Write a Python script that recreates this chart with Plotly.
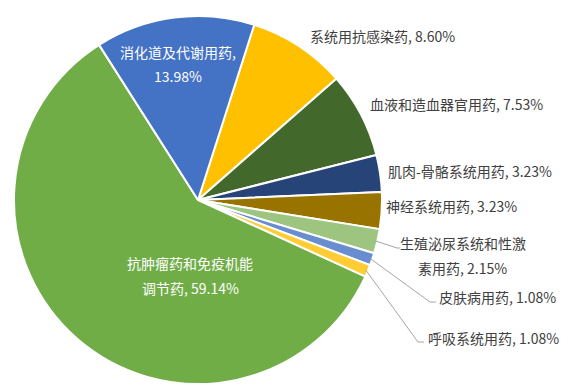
import math
import plotly.graph_objects as go

# Data (clockwise order starting at the yellow slice)
labels = ["系统用抗感染药", "血液和造血器官用药", "肌肉-骨骼系统用药", "神经系统用药",
          "生殖泌尿系统和性激素用药", "皮肤病用药", "呼吸系统用药",
          "抗肿瘤药和免疫机能调节药", "消化道及代谢用药"]
values = [8.60, 7.53, 3.23, 3.23, 2.15, 1.08, 1.08, 59.14, 13.98]
colors = ["#FFC000", "#43682B", "#264478", "#997300", "#9DC57F",
          "#698ED0", "#FFCD33", "#70AD47", "#4472C4"]
# display text lines for each label
display = [["系统用抗感染药, 8.60%"], ["血液和造血器官用药, 7.53%"], ["肌肉-骨骼系统用药, 3.23%"],
           ["神经系统用药, 3.23%"], ["生殖泌尿系统和性激", "素用药, 2.15%"], ["皮肤病用药, 1.08%"],
           ["呼吸系统用药, 1.08%"], ["抗肿瘤药和免疫机能", "调节药, 59.14%"],
           ["消化道及代谢用药,", "13.98%"]]

W, H = 582, 391
cx, cy, r = 198, 200, 184
rotation = 17.8

fig = go.Figure(go.Pie(
    labels=labels, values=values, sort=False, direction="clockwise",
    rotation=rotation, textinfo="none", hoverinfo="label+percent",
    marker=dict(colors=colors, line=dict(color="white", width=2)),
    domain=dict(x=[(cx - r) / W, (cx + r) / W], y=[(H - cy - r) / H, (H - cy + r) / H]),
    showlegend=False,
))

# label anchor positions (pixel coords of first line), alignment, colour
label_pos = [
    (308, 36, "left", "#404040"),
    (368, 104, "left", "#404040"),
    (386, 171, "left", "#404040"),
    (384, 206, "left", "#404040"),
    (463, 243, "center", "#404040"),
    (437, 297, "left", "#404040"),
    (426, 338, "left", "#404040"),
    (190, 263, "center", "white"),
    (178, 52, "center", "white"),
]
line_gap = 24.5

annotations = []
for lines, (px, py, al, col) in zip(display, label_pos):
    for k, txt in enumerate(lines):
        annotations.append(dict(
            x=px / W, y=1 - (py + k * line_gap) / H, xref="paper", yref="paper", text=txt,
            showarrow=False, xanchor=al, yanchor="middle", align="center",
            font=dict(size=14, color=col, family="Noto Sans CJK SC, Microsoft YaHei, sans-serif"),
        ))

# leader lines for the small slices, computed from the slice mid-angles
shapes = []
total = sum(values)
cum = 0
mids = []
for v in values:
    start = rotation + cum / total * 360
    mids.append(start + v / total * 360 / 2)
    cum += v
leader_targets = {4: (397, 248, 400), 5: (430, 302, 436), 6: (418, 342, 424)}
for i, (tx, ty, ex) in leader_targets.items():
    a = math.radians(mids[i])
    sx = cx + (r - 2) * math.sin(a)
    sy = cy - (r - 2) * math.cos(a)
    shapes.append(dict(type="path", xref="paper", yref="paper",
                       path=f"M {sx / W} {1 - sy / H} L {tx / W} {1 - ty / H} L {ex / W} {1 - ty / H}",
                       line=dict(color="#A6A6A6", width=1)))

fig.update_layout(
    width=W, height=H, margin=dict(l=0, r=0, t=0, b=0),
    paper_bgcolor="white", plot_bgcolor="white",
    annotations=annotations, shapes=shapes,
)
fig.write_html("out.html", config={"displayModeBar": False},
               post_script="document.body.style.margin='0';")
